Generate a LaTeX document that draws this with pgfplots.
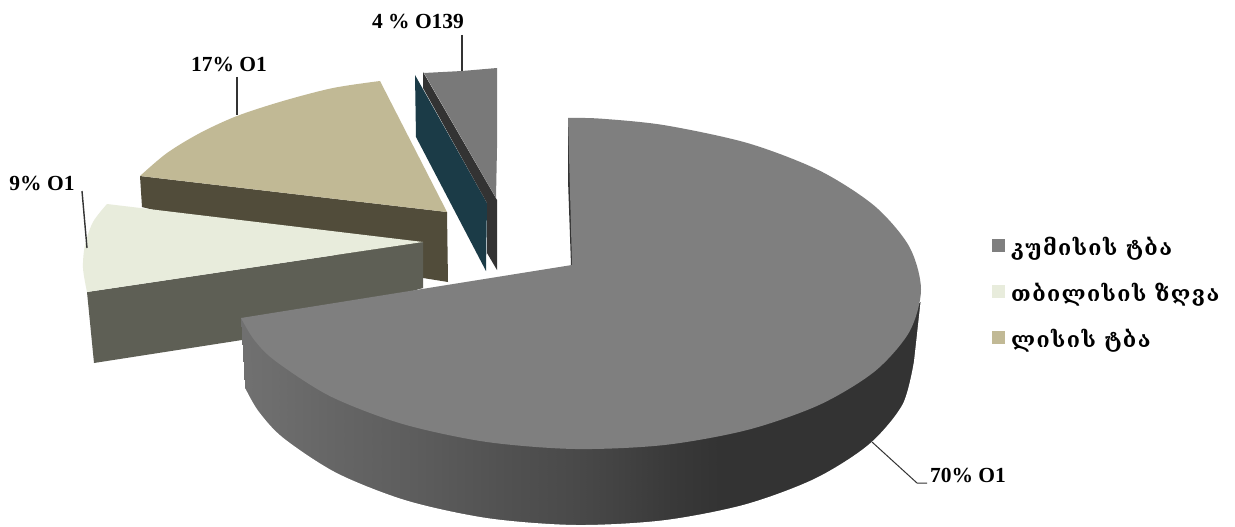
\documentclass[border=0pt]{standalone}
\usepackage{pgfplots}
\usepackage{fontspec}
\pgfplotsset{compat=1.18}
\setmainfont{Liberation Serif}
\newfontfamily\geo[LetterSpace=6.5]{DejaVu Serif}
\definecolor{mainc}{HTML}{7F7F7F}
\definecolor{lightc}{HTML}{E8ECDC}
\definecolor{lights}{HTML}{5E5F55}
\definecolor{tanc}{HTML}{C1B995}
\definecolor{tans}{HTML}{514C3A}
\definecolor{tealc}{HTML}{1B3B47}
\definecolor{darkc}{HTML}{333333}
\begin{document}
\begin{tikzpicture}
\begin{axis}[
  scale only axis, width=1235pt, height=527pt,
  xmin=0, xmax=1235, ymin=0, ymax=527, y dir=reverse,
  hide axis, clip=false,
  colormap={g}{gray(0cm)=(0); gray(1cm)=(1)},
  point meta min=0, point meta max=1,
  reverse legend,
  legend style={draw=none, fill=none, at={(axis cs:992,239)}, anchor=north west,
    font=\geo\bfseries\fontsize{21.5}{23}\selectfont, row sep=26pt, inner sep=0pt,
    /tikz/every odd column/.append style={column sep=6pt},
    nodes={inner sep=0pt, text height=14pt, text depth=4pt, anchor=base west}},
  legend cell align=left,
  legend image code/.code={\fill[#1] (2pt,3pt) rectangle (15pt,16pt);},
]
% page
\addplot[fill=white, draw=none, forget plot] coordinates {(0,0)(1235,0)(1235,527)(0,527)} --cycle;
% small slice: teal wall, dark wall, face
\addplot[fill=tealc, draw=none, forget plot] coordinates {(415,75)(416,137)(486,271)(487,203)} --cycle;
\addplot[fill=darkc, draw=none, forget plot] coordinates {(423,72)(423,88)(487,203)(487,253)(497,270)(497,200)} --cycle;
\addplot[fill=mainc!95!black, draw=none, forget plot] coordinates {(424,73)(462,71)(497,68)(497,148)(496,198)} --cycle;
% tan slice
\addplot[fill=tans, draw=none, forget plot] coordinates {(140,176)(447,212)(448,282)(423,278)(142,207)} --cycle;
\addplot[fill=tanc, draw=none, smooth] coordinates {(380,81)(333,88)(283,101)(237,116)(200,133)(167,153)(140,176)} -- (axis cs:447,212) --cycle;
\addlegendentry{ლისის ტბა}
% light slice
\addplot[fill=lights, draw=none, forget plot] coordinates {(87,292)(423,242)(423,288)(242,340)(94,363)} --cycle;
\addplot[fill=lightc, draw=none, smooth] coordinates {(107,204)(93,222)(85,245)(83,268)(87,292)} -- (axis cs:423,242) --cycle;
\addlegendentry{თბილისის ზღვა}
% main slice: sliver, side, top
\addplot[fill=darkc, draw=none, forget plot] coordinates {(568,125)(568,180)(571,265)(575,265)(570,125)} --cycle;
\addplot[surf, shader=interp, mesh/rows=2, forget plot, point meta=explicit] table[x=x, y=y, meta=c] {
x y c
241 318 .44
270 340 .43
330 370 .40
413 400 .365
513 420 .315
570 420 .29
620 420 .26
670 420 .225
720 420 .2
920 302 .2
245 388 .44
270 440 .43
330 490 .40
413 520 .365
513 527 .315
570 527 .29
620 527 .26
670 527 .225
720 527 .2
925 440 .2
};
% white ground below the side wall
\addplot[fill=white, draw=none, forget plot, smooth] coordinates {(914,361.3)(902.5,404.6)(868.7,444.6)(815,478.6)(745,504.5)(663.5,520.3)(576,525)(488.5,518.3)(407,500.7)(337,473.2)(283.3,438)(258.4,411.2)(245.4,388.6)} -- (axis cs:235,388) -- (axis cs:235,527) -- (axis cs:930,527) -- (axis cs:930,290) -- (axis cs:921,298) --cycle;
\addplot[fill=mainc, draw=none, smooth] coordinates {(568,118)(600,118.6)(664.5,125.2)(748,143.2)(819.7,170.7)(874.6,206)(909.2,246.5)(921,289.5)(909.2,332.1)(874.6,371.5)(819.7,404.7)(748,429.8)(664.5,445)(575,449)(485.5,441.8)(402,423.8)(330.3,396.3)(275.4,361)(254.2,339.9)(241,318)} -- (axis cs:572,265) --cycle;
\addlegendentry{კუმისის ტბა}
% leader lines
\addplot[draw=darkc, line width=1.4pt, forget plot] coordinates {(462,35)(462,71)};
\addplot[draw=darkc, line width=1.4pt, forget plot] coordinates {(237,77)(237,115)};
\addplot[draw=darkc, line width=1.4pt, forget plot] coordinates {(82,191)(87,248)};
\addplot[draw=darkc, line width=1pt, forget plot] coordinates {(872,442)(917,483)(927,483)};
\node[font=\bfseries\fontsize{21.5}{24}\selectfont, inner sep=0pt] at (axis cs:418,21) {4 \% O139};
\node[font=\bfseries\fontsize{21.5}{24}\selectfont, inner sep=0pt] at (axis cs:229,64) {17\% O1};
\node[font=\bfseries\fontsize{21.5}{24}\selectfont, inner sep=0pt] at (axis cs:42,183) {9\% O1};
\node[font=\bfseries\fontsize{21.5}{24}\selectfont, inner sep=0pt] at (axis cs:968,475) {70\% O1};
\end{axis}
\end{tikzpicture}
\end{document}
